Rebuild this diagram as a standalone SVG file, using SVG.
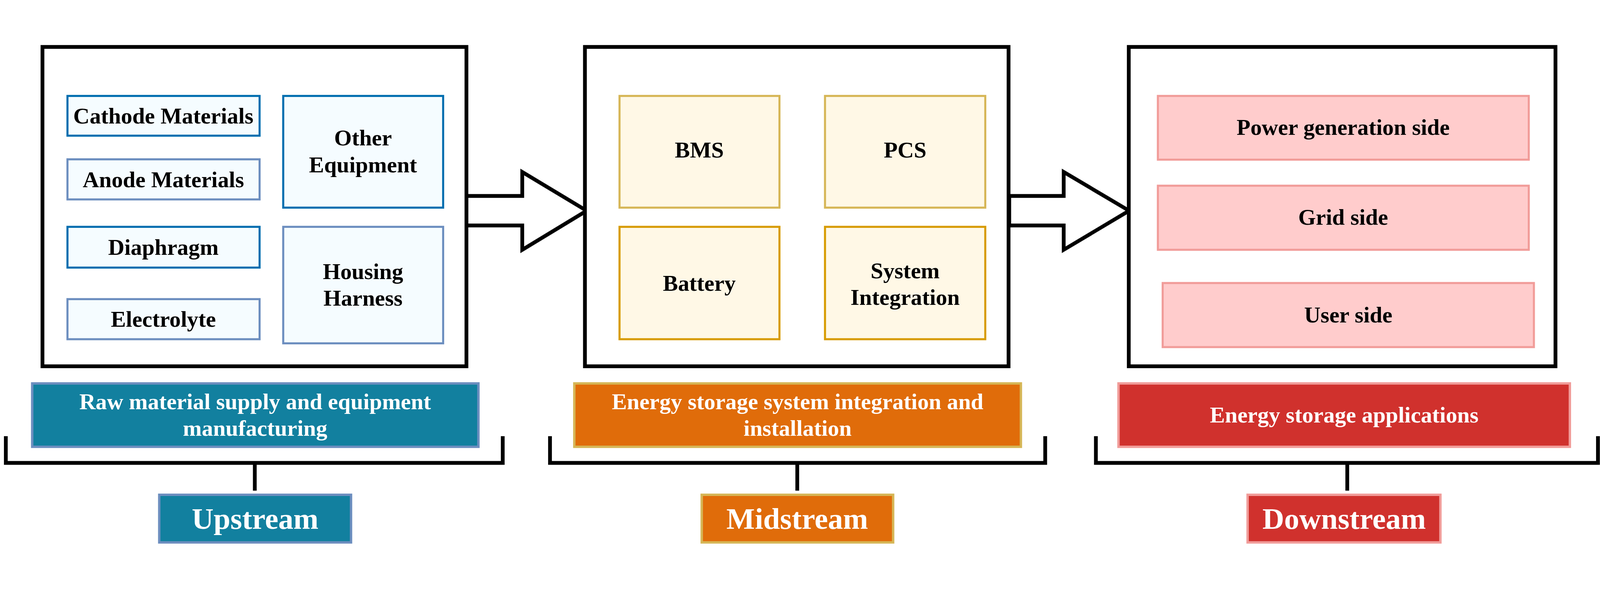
<svg xmlns="http://www.w3.org/2000/svg" width="4672" height="1507" viewBox="0 0 4672 1507" style="width:100vw;height:100vh;display:block">
<style>
text{font-family:"Liberation Serif","Times New Roman",serif;font-weight:bold;text-anchor:middle}
.t{font-size:66px;fill:#000}
.w{font-size:66px;fill:#fff}
.big{font-size:88px;fill:#fff}
.frame{fill:#fff;stroke:#000;stroke-width:11}
.b1{fill:#F5FCFF;stroke:#006EAF;stroke-width:6}
.b2{fill:#F5FCFF;stroke:#6C8EBF;stroke-width:6}
.y1{fill:#FFF8E6;stroke:#D6B656;stroke-width:6}
.y2{fill:#FFF8E6;stroke:#D79B00;stroke-width:6}
.p{fill:#FFCCCC;stroke:#F19C99;stroke-width:6}
.teal{fill:#12809F;stroke:#6C8EBF;stroke-width:7}
.org{fill:#E06C0A;stroke:#D6B656;stroke-width:7}
.red{fill:#D0312D;stroke:#F19C99;stroke-width:7}
.ln{fill:none;stroke:#000;stroke-width:11}
</style>
<g id="connectors">
<polygon class="frame" points="1362,466 1525,466 1525,396 1713,509 1525,623 1525,552 1362,552"/>
<polygon class="frame" points="2947,466 3106,466 3106,396 3297,509 3106,623 3106,552 2947,552"/>
<polyline class="ln" points="17,1167 17,1245 1468,1245 1468,1167"/>
<line class="ln" x1="744" y1="1245" x2="744" y2="1326"/>
<polyline class="ln" points="1606,1167 1606,1245 3052,1245 3052,1167"/>
<line class="ln" x1="2328" y1="1245" x2="2328" y2="1326"/>
<polyline class="ln" points="3200,1167 3200,1245 4666,1245 4666,1167"/>
<line class="ln" x1="3934" y1="1245" x2="3934" y2="1326"/>
</g>
<g id="upstream-frame"><rect class="frame" x="124" y="31" width="1238" height="932"/></g>
<g id="cathode"><rect class="b1" x="197" y="174" width="561" height="116"/><text class="t" x="477" y="254">Cathode Materials</text></g>
<g id="anode"><rect class="b2" x="197" y="359" width="561" height="117"/><text class="t" x="477" y="440">Anode Materials</text></g>
<g id="diaphragm"><rect class="b1" x="197" y="556" width="561" height="119"/><text class="t" x="477" y="638">Diaphragm</text></g>
<g id="electrolyte"><rect class="b2" x="197" y="767" width="561" height="117"/><text class="t" x="477" y="848">Electrolyte</text></g>
<g id="other"><rect class="b1" x="827" y="174" width="467" height="326"/><text class="t" x="1060" y="318">Other</text><text class="t" x="1060" y="397">Equipment</text></g>
<g id="housing"><rect class="b2" x="827" y="556" width="467" height="340"/><text class="t" x="1060" y="708">Housing</text><text class="t" x="1060" y="786">Harness</text></g>
<g id="midstream-frame"><rect class="frame" x="1708" y="31" width="1237" height="932"/></g>
<g id="bms"><rect class="y1" x="1809" y="174" width="467" height="326"/><text class="t" x="2042" y="354">BMS</text></g>
<g id="pcs"><rect class="y1" x="2409" y="174" width="468" height="326"/><text class="t" x="2643" y="354">PCS</text></g>
<g id="battery"><rect class="y2" x="1809" y="556" width="467" height="328"/><text class="t" x="2042" y="743">Battery</text></g>
<g id="sysint"><rect class="y2" x="2409" y="556" width="468" height="328"/><text class="t" x="2643" y="706">System</text><text class="t" x="2643" y="784">Integration</text></g>
<g id="downstream-frame"><rect class="frame" x="3296" y="31" width="1246" height="932"/></g>
<g id="power"><rect class="p" x="3381" y="174" width="1083" height="186"/><text class="t" x="3922" y="288">Power generation side</text></g>
<g id="grid"><rect class="p" x="3381" y="436" width="1083" height="187"/><text class="t" x="3922" y="550">Grid side</text></g>
<g id="user"><rect class="p" x="3395" y="720" width="1084" height="187"/><text class="t" x="3937" y="835">User side</text></g>
<g id="raw"><rect class="teal" x="94" y="1013" width="1303" height="185"/><text class="w" x="745" y="1088">Raw material supply and equipment</text><text class="w" x="745" y="1166">manufacturing</text></g>
<g id="integration"><rect class="org" x="1677" y="1013" width="1304" height="185"/><text class="w" x="2329" y="1088">Energy storage system integration and</text><text class="w" x="2329" y="1166">installation</text></g>
<g id="applications"><rect class="red" x="3266" y="1013" width="1318" height="185"/><text class="w" x="3925" y="1127">Energy storage applications</text></g>
<g id="upstream"><rect class="teal" x="465" y="1338" width="560" height="139"/><text class="big" x="745" y="1437">Upstream</text></g>
<g id="midstream"><rect class="org" x="2049" y="1338" width="559" height="139"/><text class="big" x="2328" y="1437">Midstream</text></g>
<g id="downstream"><rect class="red" x="3643" y="1338" width="563" height="139"/><text class="big" x="3925" y="1437">Downstream</text></g>
</svg>
